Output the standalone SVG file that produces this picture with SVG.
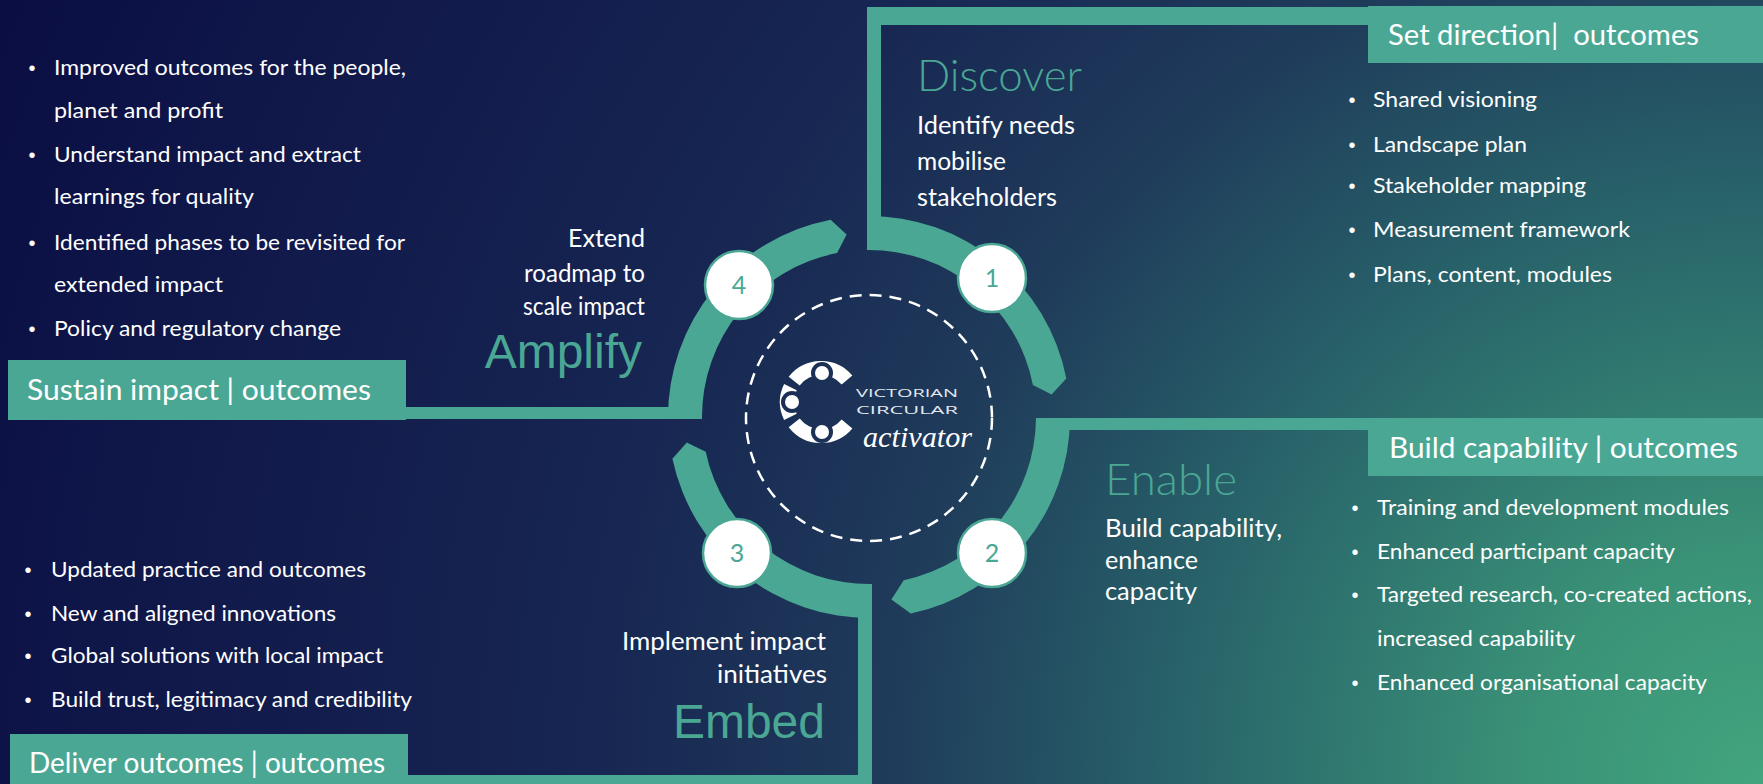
<svg xmlns="http://www.w3.org/2000/svg" width="1763" height="784" viewBox="0 0 1763 784">
<defs>
<radialGradient id="bg" gradientUnits="userSpaceOnUse" cx="1763" cy="784" r="1950">
<stop offset="0" stop-color="#42a57e"/>
<stop offset="0.12" stop-color="#3a9277"/>
<stop offset="0.3" stop-color="#28636a"/>
<stop offset="0.45" stop-color="#1f3b5a"/>
<stop offset="0.6" stop-color="#172652"/>
<stop offset="0.8" stop-color="#111a4b"/>
<stop offset="1" stop-color="#0a0d42"/>
</radialGradient>
<mask id="logoMask" maskUnits="userSpaceOnUse" x="760" y="340" width="130" height="130">
<rect x="760" y="340" width="130" height="130" fill="#fff"/>
<circle cx="822" cy="373" r="11" fill="#000"/>
<circle cx="792" cy="402" r="11" fill="#000"/>
<circle cx="822" cy="432" r="11" fill="#000"/>
</mask>
<style>
.teal{fill:#4aa794}
.t{font-family:Lato,"Open Sans","Liberation Sans",sans-serif;fill:#ffffff}
.bt{font-size:22px}
.hd{font-size:28px}
.sub{font-size:25.5px}
.ttl{font-family:Lato,"Open Sans","Liberation Sans",sans-serif;font-size:43px;font-weight:300;fill:#4aa794}
.big{font-family:"Liberation Sans",Arial,sans-serif;font-size:48px;fill:#4aa794}
.bul{font-family:"Liberation Sans",Arial,sans-serif;font-size:20px;fill:#ffffff;text-anchor:middle}
.end{text-anchor:end}
.stepc{fill:#ffffff;stroke:#4aa794;stroke-width:2.5}
.num{font-family:Lato,"Open Sans",sans-serif;font-size:25px;fill:#4aa794;text-anchor:middle}
.ring{fill:none;stroke:#ffffff;stroke-width:14}
.logot{font-family:"Open Sans","Noto Sans",sans-serif;font-size:11px;fill:#e4e8ee}
</style>
</defs>

<rect x="0" y="0" width="1763" height="784" fill="url(#bg)"/>

<g id="connectors">
<rect class="teal" x="867" y="7" width="14" height="215"/>
<rect class="teal" x="867" y="7" width="505" height="18"/>
<rect class="teal" x="1055" y="418" width="315" height="12"/>
<rect class="teal" x="400" y="407" width="290" height="12"/>
<rect class="teal" x="858" y="610" width="14" height="174"/>
<rect class="teal" x="400" y="775" width="472" height="9"/>
<path class="teal" d="M867,216 A201,201 0 0 1 1066.3,378.6 L1051.6,394.6 L1032.9,385.1 A167,167 0 0 0 867,250 Z"/>
<path class="teal" d="M1070,418 A201,201 0 0 1 910.8,613.6 L891.4,599.6 L903.7,580.3 A167,167 0 0 0 1036,418 Z"/>
<path class="teal" d="M872,618 A201,201 0 0 1 672.4,458.8 L686.8,442.6 L705.7,451.7 A167,167 0 0 0 872,584 Z"/>
<path class="teal" d="M668,419 A201,201 0 0 1 830.6,219.7 L846.6,234.4 L837.1,253.1 A167,167 0 0 0 702,419 Z"/>
</g>

<g id="dashed-circle">
<circle cx="869" cy="418" r="123" fill="none" stroke="#ffffff" stroke-width="2.5" stroke-dasharray="12 8"/>
</g>

<g id="logo">
<g mask="url(#logoMask)">
<path class="ring" d="M794.2,381.1 A34,34 0 0 1 847,380.1"/>
<path class="ring" d="M847,423.9 A34,34 0 0 1 794.2,422.9"/>
<path class="ring" d="M790.4,416.9 A34,34 0 0 1 790.4,387.1"/>
</g>
<circle cx="822" cy="373" r="7" fill="#ffffff"/>
<circle cx="792" cy="402" r="7" fill="#ffffff"/>
<circle cx="822" cy="432" r="7" fill="#ffffff"/>
<text class="logot" x="856" y="397" textLength="102" lengthAdjust="spacingAndGlyphs">VICTORIAN</text>
<text class="logot" x="856" y="414" textLength="102" lengthAdjust="spacingAndGlyphs">CIRCULAR</text>
<text x="863" y="447" font-family="'Liberation Serif',serif" font-style="italic" font-size="30" fill="#ffffff" textLength="109" lengthAdjust="spacingAndGlyphs">activator</text>
</g>

<g id="step-1">
<circle class="stepc" cx="992" cy="278" r="34"/>
<text class="num" x="992" y="287">1</text>
</g>
<g id="step-2">
<circle class="stepc" cx="992" cy="553" r="34"/>
<text class="num" x="992" y="562">2</text>
</g>
<g id="step-3">
<circle class="stepc" cx="737" cy="553" r="34"/>
<text class="num" x="737" y="562">3</text>
</g>
<g id="step-4">
<circle class="stepc" cx="739" cy="285" r="34"/>
<text class="num" x="739" y="294">4</text>
</g>

<g id="discover">
<text class="ttl" x="917" y="91" textLength="165" lengthAdjust="spacingAndGlyphs">Discover</text>
<text class="t sub" x="917" y="134" textLength="158" lengthAdjust="spacingAndGlyphs">Identify needs</text>
<text class="t sub" x="917" y="170" textLength="89" lengthAdjust="spacingAndGlyphs">mobilise</text>
<text class="t sub" x="917" y="206" textLength="140" lengthAdjust="spacingAndGlyphs">stakeholders</text>
</g>

<g id="enable">
<text class="ttl" x="1105" y="495" textLength="132" lengthAdjust="spacingAndGlyphs">Enable</text>
<text class="t sub" x="1105" y="537" textLength="177" lengthAdjust="spacingAndGlyphs">Build capability,</text>
<text class="t sub" x="1105" y="569" textLength="93" lengthAdjust="spacingAndGlyphs">enhance</text>
<text class="t sub" x="1105" y="600" textLength="92" lengthAdjust="spacingAndGlyphs">capacity</text>
</g>

<g id="embed">
<text class="t sub end" x="826" y="650" textLength="204" lengthAdjust="spacingAndGlyphs">Implement impact</text>
<text class="t sub end" x="827" y="683" textLength="110" lengthAdjust="spacingAndGlyphs">initiatives</text>
<text class="big end" x="825" y="738">Embed</text>
</g>

<g id="amplify">
<text class="t sub end" x="645" y="247" textLength="77" lengthAdjust="spacingAndGlyphs">Extend</text>
<text class="t sub end" x="645" y="282" textLength="121" lengthAdjust="spacingAndGlyphs">roadmap to</text>
<text class="t sub end" x="645" y="315" textLength="122" lengthAdjust="spacingAndGlyphs">scale impact</text>
<text class="big end" x="642" y="368">Amplify</text>
</g>

<g id="set-direction">
<rect class="teal" x="1368" y="6" width="395" height="57"/>
<text class="t hd" x="1388" y="45" textLength="311" lengthAdjust="spacingAndGlyphs" xml:space="preserve">Set direction|  outcomes</text>
<text class="bul" x="1352" y="107">•</text>
<text class="t bt" x="1373" y="107" textLength="164" lengthAdjust="spacingAndGlyphs">Shared visioning</text>
<text class="bul" x="1352" y="152">•</text>
<text class="t bt" x="1373" y="152" textLength="154" lengthAdjust="spacingAndGlyphs">Landscape plan</text>
<text class="bul" x="1352" y="193">•</text>
<text class="t bt" x="1373" y="193" textLength="213" lengthAdjust="spacingAndGlyphs">Stakeholder mapping</text>
<text class="bul" x="1352" y="237">•</text>
<text class="t bt" x="1373" y="237" textLength="257" lengthAdjust="spacingAndGlyphs">Measurement framework</text>
<text class="bul" x="1352" y="282">•</text>
<text class="t bt" x="1373" y="282" textLength="239" lengthAdjust="spacingAndGlyphs">Plans, content, modules</text>
</g>

<g id="build-capability">
<rect class="teal" x="1368" y="418" width="395" height="58"/>
<text class="t hd" x="1389" y="458" textLength="349" lengthAdjust="spacingAndGlyphs">Build capability | outcomes</text>
<text class="bul" x="1355" y="515">•</text>
<text class="t bt" x="1377" y="515" textLength="352" lengthAdjust="spacingAndGlyphs">Training and development modules</text>
<text class="bul" x="1355" y="559">•</text>
<text class="t bt" x="1377" y="559" textLength="298" lengthAdjust="spacingAndGlyphs">Enhanced participant capacity</text>
<text class="bul" x="1355" y="602">•</text>
<text class="t bt" x="1377" y="602" textLength="375" lengthAdjust="spacingAndGlyphs">Targeted research, co-created actions,</text>
<text class="t bt" x="1377" y="646" textLength="198" lengthAdjust="spacingAndGlyphs">increased capability</text>
<text class="bul" x="1355" y="690">•</text>
<text class="t bt" x="1377" y="690" textLength="330" lengthAdjust="spacingAndGlyphs">Enhanced organisational capacity</text>
</g>

<g id="sustain-impact">
<rect class="teal" x="8" y="360" width="398" height="60"/>
<text class="t hd" x="27" y="400" textLength="344" lengthAdjust="spacingAndGlyphs">Sustain impact | outcomes</text>
<text class="bul" x="32" y="75">•</text>
<text class="t bt" x="54" y="75" textLength="352" lengthAdjust="spacingAndGlyphs">Improved outcomes for the people,</text>
<text class="t bt" x="54" y="118" textLength="169" lengthAdjust="spacingAndGlyphs">planet and profit</text>
<text class="bul" x="32" y="162">•</text>
<text class="t bt" x="54" y="162" textLength="307" lengthAdjust="spacingAndGlyphs">Understand impact and extract</text>
<text class="t bt" x="54" y="204" textLength="200" lengthAdjust="spacingAndGlyphs">learnings for quality</text>
<text class="bul" x="32" y="250">•</text>
<text class="t bt" x="54" y="250" textLength="351" lengthAdjust="spacingAndGlyphs">Identified phases to be revisited for</text>
<text class="t bt" x="54" y="292" textLength="169" lengthAdjust="spacingAndGlyphs">extended impact</text>
<text class="bul" x="32" y="336">•</text>
<text class="t bt" x="54" y="336" textLength="287" lengthAdjust="spacingAndGlyphs">Policy and regulatory change</text>
</g>

<g id="deliver-outcomes">
<rect class="teal" x="10" y="734" width="398" height="50"/>
<text class="t hd" x="29" y="773" textLength="356" lengthAdjust="spacingAndGlyphs">Deliver outcomes | outcomes</text>
<text class="bul" x="28" y="577">•</text>
<text class="t bt" x="51" y="577" textLength="315" lengthAdjust="spacingAndGlyphs">Updated practice and outcomes</text>
<text class="bul" x="28" y="621">•</text>
<text class="t bt" x="51" y="621" textLength="285" lengthAdjust="spacingAndGlyphs">New and aligned innovations</text>
<text class="bul" x="28" y="663">•</text>
<text class="t bt" x="51" y="663" textLength="332" lengthAdjust="spacingAndGlyphs">Global solutions with local impact</text>
<text class="bul" x="28" y="707">•</text>
<text class="t bt" x="51" y="707" textLength="361" lengthAdjust="spacingAndGlyphs">Build trust, legitimacy and credibility</text>
</g>
</svg>
